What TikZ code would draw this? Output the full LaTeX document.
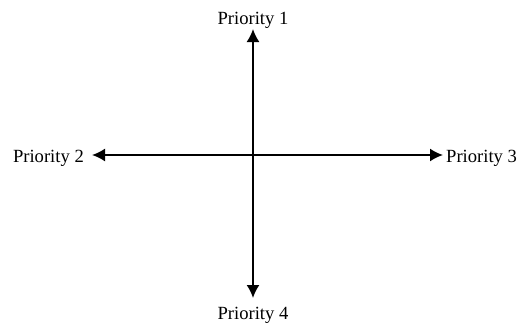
\documentclass[tikz,border=0pt]{standalone}
\usepackage{fontspec}
\setmainfont{Liberation Serif}
\usetikzlibrary{arrows.meta}
\begin{document}
\begin{tikzpicture}[x=1pt,y=-1pt,
  lbl/.style={font=\fontsize{18.6}{22}\selectfont, inner sep=0pt},
  axis/.style={line width=1.8pt, {Latex[length=13pt,width=13pt]}-{Latex[length=13pt,width=13pt]}}]
\useasboundingbox (0,0) rectangle (523,324);
\node[lbl, anchor=base] (p1) at (253,24) {Priority 1};
\node[lbl, anchor=base] (p4) at (253,319) {Priority 4};
\node[lbl, anchor=base east] (p2) at (84,162) {Priority 2};
\node[lbl, anchor=base west] (p3) at (446,162) {Priority 3};
\coordinate (top) at (253,29);
\coordinate (bot) at (253,298);
\coordinate (lft) at (92,155);
\coordinate (rgt) at (443,155);
\draw[axis] (top) -- (bot);
\draw[axis] (lft) -- (rgt);
\end{tikzpicture}
\end{document}
